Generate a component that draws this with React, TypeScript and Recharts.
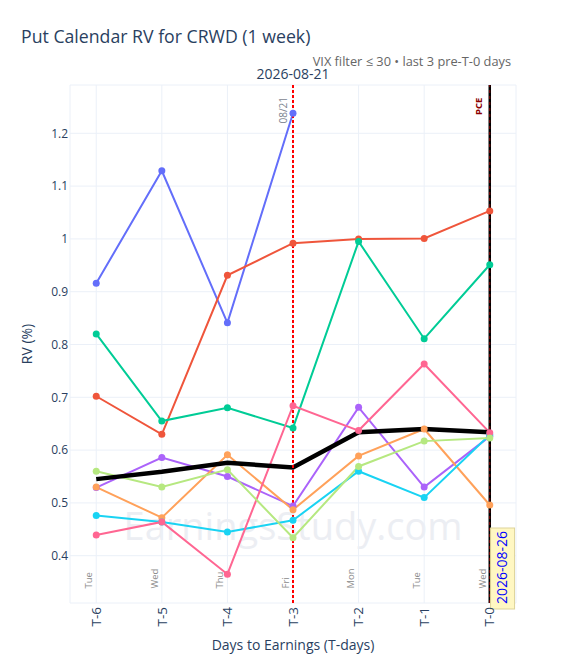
import { LineChart, Line, XAxis, YAxis, CartesianGrid, ReferenceLine } from "recharts";

const FONT = "'Open Sans', verdana, arial, sans-serif";
const INK = "#2a3f5f";

// days to earnings and the weekday each one fell on
const T_DAYS = [-6, -5, -4, -3, -2, -1, 0];
const WEEKDAYS = ["Tue", "Wed", "Thu", "Fri", "Mon", "Tue", "Wed"];
const Y_TICKS = [0.4, 0.5, 0.6, 0.7, 0.8, 0.9, 1.0, 1.1, 1.2];

// RV (%) per past earnings cycle, T-6 .. T-0
const RV_1 = [0.916, 1.129, 0.841, 1.238, null, null, null];
const RV_2 = [0.702, 0.63, 0.931, 0.992, 1.0, 1.001, 1.053];
const RV_3 = [0.82, 0.655, 0.68, 0.642, 0.995, 0.811, 0.951];
const RV_4 = [0.529, 0.586, 0.55, 0.494, 0.681, 0.53, 0.626];
const RV_5 = [0.53, 0.472, 0.591, 0.487, 0.589, 0.64, 0.496];
const RV_6 = [0.476, 0.464, 0.445, 0.467, 0.56, 0.51, 0.629];
const RV_7 = [0.439, 0.464, 0.365, 0.684, 0.637, 0.763, 0.633];
const RV_8 = [0.56, 0.53, 0.563, 0.434, 0.569, 0.617, 0.623];
const RV_MEAN = [0.545, 0.559, 0.576, 0.567, 0.634, 0.64, 0.634];

const SERIES = [
  { key: "c1", color: "#636efa", values: RV_1 },
  { key: "c2", color: "#EF553B", values: RV_2 },
  { key: "c3", color: "#00cc96", values: RV_3 },
  { key: "c4", color: "#ab63fa", values: RV_4 },
  { key: "c5", color: "#FFA15A", values: RV_5 },
  { key: "c6", color: "#19d3f3", values: RV_6 },
  { key: "c7", color: "#FF6692", values: RV_7 },
  { key: "c8", color: "#B6E880", values: RV_8 },
];

const rows = T_DAYS.map((t, i) => {
  const row: Record<string, number | null> = { t, mean: RV_MEAN[i] };
  SERIES.forEach((s) => (row[s.key] = s.values[i]));
  return row;
});

// eslint-disable-next-line @typescript-eslint/no-explicit-any
function XTick({ x, y, payload }: any) {
  const t = payload.value as number;
  const day = WEEKDAYS[T_DAYS.indexOf(t)];
  const wx = x - 7.5;
  const wy = y - 14.5;
  const ty = y + 4;
  return (
    <g fontFamily={FONT}>
      <text x={wx} y={wy} dy="0.35em" transform={`rotate(-90, ${wx}, ${wy})`} textAnchor="start" fontSize={9.5} fill="#8a8a8a">
        {day}
      </text>
      <text x={x} y={ty} dy="0.35em" transform={`rotate(-90, ${x}, ${ty})`} textAnchor="end" fontSize={13.5} fill={INK}>
        {t === 0 ? "T-0" : `T${t}`}
      </text>
    </g>
  );
}

// eslint-disable-next-line @typescript-eslint/no-explicit-any
function EventLabel({ viewBox }: any) {
  const { x, y } = viewBox;
  const lx = x - 10;
  const ly = y + 12;
  return (
    <g fontFamily={FONT}>
      <text x={x} y={y - 6} textAnchor="middle" fontSize={14} fill={INK}>
        2026-08-21
      </text>
      <text x={lx} y={ly} dy="0.35em" transform={`rotate(-90, ${lx}, ${ly})`} textAnchor="end" fontSize={10} fill="#7d8591">
        08/21
      </text>
    </g>
  );
}

// eslint-disable-next-line @typescript-eslint/no-explicit-any
function PceLabel({ viewBox }: any) {
  const { x, y, height } = viewBox;
  const bottom = y + height;
  const px = x - 11;
  const py = y + 30;
  const bx = x + 12.8;
  const by = bottom + 1;
  return (
    <g fontFamily={FONT}>
      <text x={px} y={py} dy="0.35em" transform={`rotate(-90, ${px}, ${py})`} textAnchor="start" fontSize={9.5} fontWeight="bold" fill="#8b0000">
        PCE
      </text>
      <rect x={x + 0.8} y={bottom - 75} width={24} height={81} fill="#fff7c2" stroke="#ddd39a" />
      <text x={bx} y={by} dy="0.35em" transform={`rotate(-90, ${bx}, ${by})`} textAnchor="start" fontSize={14} fill="#0000ff">
        2026-08-26
      </text>
    </g>
  );
}

export default function App() {
  return (
    <div style={{ position: "absolute", left: 0, top: 0, width: 562, height: 670, background: "#fff" }}>
      <svg width={562} height={670} style={{ position: "absolute", left: 0, top: 0 }} fontFamily={FONT}>
        <text x={21} y={43} fontSize={17.7} fill={INK}>
          Put Calendar RV for CRWD (1 week)
        </text>
        <text x={511} y={66} fontSize={12.8} textAnchor="end" fill="#666">
          VIX filter ≤ 30 • last 3 pre-T-0 days
        </text>
        <text x={293} y={540} fontSize={38} textAnchor="middle" fill="#eceef3">
          EarningsStudy.com
        </text>
        <text x={293} y={650} fontSize={14} textAnchor="middle" fill={INK}>
          Days to Earnings (T-days)
        </text>
        <text x={27} y={344} dy="0.35em" fontSize={14} textAnchor="middle" fill={INK} transform="rotate(-90, 27, 344)">
          RV (%)
        </text>
      </svg>
      <div style={{ position: "absolute", left: 0, top: 0 }}>
        <LineChart width={562} height={670} data={rows} margin={{ top: 85, right: 46, bottom: 27, left: 0 }}>
          <CartesianGrid stroke="#ebf0f8" strokeWidth={1} />
          <XAxis
            type="number"
            dataKey="t"
            domain={[-6.4, 0.4]}
            ticks={T_DAYS}
            interval={0}
            allowDataOverflow
            axisLine={false}
            tickLine={false}
            tickSize={0}
            tickMargin={0}
            height={40}
            tick={<XTick />}
          />
          <YAxis
            type="number"
            domain={[0.3104, 1.2915]}
            ticks={Y_TICKS}
            allowDataOverflow
            axisLine={false}
            tickLine={false}
            tickSize={0}
            tickMargin={2}
            width={70}
            tick={{ fill: INK, fontSize: 12, fontFamily: FONT }}
            tickFormatter={(v: number) => String(Number(v.toFixed(1)))}
          />
          {SERIES.map((s) => (
            <Line
              key={s.key}
              type="linear"
              dataKey={s.key}
              stroke={s.color}
              strokeWidth={2}
              dot={{ r: 3.5, fill: s.color, stroke: s.color, strokeWidth: 0 }}
              activeDot={false}
              isAnimationActive={false}
            />
          ))}
          <Line type="linear" dataKey="mean" stroke="#000" strokeWidth={4.5} dot={false} activeDot={false} isAnimationActive={false} />
          <ReferenceLine x={-3} stroke="#ff0000" strokeWidth={2} strokeDasharray="3 2" label={(p: any) => <EventLabel viewBox={p.viewBox} />} />
          <ReferenceLine x={0} stroke="#000" strokeWidth={2.5} />
          <ReferenceLine x={0} stroke="#8b0000" strokeWidth={1} strokeDasharray="3 3" label={(p: any) => <PceLabel viewBox={p.viewBox} />} />
        </LineChart>
      </div>
    </div>
  );
}
